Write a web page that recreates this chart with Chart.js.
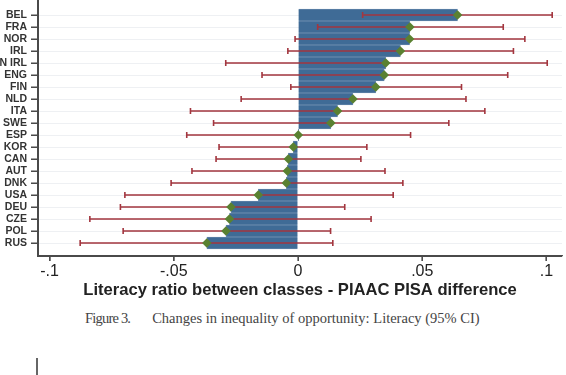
<!DOCTYPE html>
<html>
<head>
<meta charset="utf-8">
<script src="https://cdn.jsdelivr.net/npm/chart.js@4"></script>
<style>
  html, body { margin: 0; padding: 0; background: #fff; width: 566px; height: 375px; overflow: hidden; }
  #wrap { position: absolute; left: 0; top: 0; width: 566px; height: 300px; }
  #caption { position: absolute; left: 85px; top: 310px; font-family: "Liberation Serif", serif; font-size: 14.5px; color: #444; white-space: nowrap; }
  #caption .fig { letter-spacing: -0.8px; }
  #caption .gap { display: inline-block; width: 22px; }
  #cursor { position: absolute; left: 36px; top: 358px; width: 2px; height: 17px; background: #666; }
</style>
</head>
<body>
<div id="wrap"><canvas id="c" width="566" height="300"></canvas></div>
<div id="caption"><span class="fig">Figure 3.</span><span class="gap"></span>Changes in inequality of opportunity: Literacy (95% CI)</div>
<div id="cursor"></div>
<script>
const countries = ['BEL','FRA','NOR','IRL','N IRL','ENG','FIN','NLD','ITA','SWE','ESP','KOR','CAN','AUT','DNK','USA','DEU','CZE','POL','RUS'];
const estimates = [0.0642, 0.0450, 0.0449, 0.0412, 0.0353, 0.0347, 0.0313, 0.0221, 0.0159, 0.0132, 0.0001, -0.0019, -0.0039, -0.0043, -0.0047, -0.0160, -0.0270, -0.0276, -0.0290, -0.0367];
const lowerCI  = [0.0260, 0.0079, -0.0012, -0.0041, -0.0291, -0.0145, -0.0029, -0.0229, -0.0433, -0.0340, -0.0448, -0.0318, -0.0330, -0.0427, -0.0511, -0.0697, -0.0715, -0.0838, -0.0704, -0.0877];
const upperCI  = [0.1023, 0.0826, 0.0913, 0.0867, 0.1003, 0.0844, 0.0658, 0.0676, 0.0752, 0.0607, 0.0453, 0.0277, 0.0253, 0.0350, 0.0422, 0.0383, 0.0188, 0.0294, 0.0131, 0.0140];
const xTickValues = [-0.1, -0.05, 0, 0.05, 0.1];
const xTickLabels = ['-.1', '-.05', '0', '.05', '.1'];
const xTitle = 'Literacy ratio between classes - PIAAC PISA difference';

const barData = estimates.map((v, i) => ({ x: v, y: i }));
const pointData = estimates.map((v, i) => ({ x: v, y: i }));

const errorBars = {
  id: 'errorBars',
  afterDatasetDraw(chart, args) {
    if (args.index !== 0) return;
    const ctx = chart.ctx;
    const xs = chart.scales.x, ys = chart.scales.y;
    ctx.save();
    ctx.strokeStyle = '#a3363f';
    ctx.lineWidth = 1.6;
    const cap = 3;
    for (let i = 0; i < countries.length; i++) {
      const y = ys.getPixelForValue(i);
      const x1 = xs.getPixelForValue(lowerCI[i]);
      const x2 = xs.getPixelForValue(upperCI[i]);
      ctx.beginPath();
      ctx.moveTo(x1, y); ctx.lineTo(x2, y);
      ctx.moveTo(x1, y - cap); ctx.lineTo(x1, y + cap);
      ctx.moveTo(x2, y - cap); ctx.lineTo(x2, y + cap);
      ctx.stroke();
    }
    ctx.restore();
  }
};

const axisLines = {
  id: 'axisLines',
  afterDraw(chart) {
    const ctx = chart.ctx;
    const ca = chart.chartArea;
    const xs = chart.scales.x, ys = chart.scales.y;
    ctx.save();
    ctx.fillStyle = '#4a4a4a';
    ctx.fillRect(Math.round(ca.left) - 1, ca.top, 2, ca.bottom - ca.top + 1);
    ctx.fillRect(ca.left - 1, Math.round(ca.bottom) - 1, ca.right - ca.left + 1, 2);
    for (let i = 0; i < countries.length; i++) {
      const y = Math.round(ys.getPixelForValue(i));
      ctx.fillRect(ca.left - 7, y - 0.5, 7, 1.3);
    }
    for (const v of xTickValues) {
      const x = Math.round(xs.getPixelForValue(v));
      ctx.fillRect(x - 0.6, ca.bottom, 1.3, 5);
    }
    ctx.restore();
  }
};

new Chart(document.getElementById('c'), {
  type: 'bar',
  data: {
    datasets: [
      {
        type: 'bar',
        data: barData,
        backgroundColor: '#3f6b96',
        borderColor: '#6f8fb1',
        borderWidth: 0.8,
        barPercentage: 1,
        categoryPercentage: 1,
        order: 2
      },
      {
        type: 'line',
        data: pointData,
        showLine: false,
        pointStyle: 'rectRot',
        pointRadius: 4.8,
        pointBackgroundColor: '#5a8131',
        pointBorderColor: '#5a8131',
        pointBorderWidth: 0,
        clip: false,
        order: 1
      }
    ]
  },
  plugins: [errorBars, axisLines],
  options: {
    indexAxis: 'y',
    responsive: false,
    maintainAspectRatio: false,
    devicePixelRatio: 1,
    animation: false,
    layout: { autoPadding: false, padding: { top: 0, right: 4, left: 0, bottom: 0 } },
    plugins: { legend: { display: false }, tooltip: { enabled: false } },
    scales: {
      x: {
        type: 'linear',
        min: -0.10467,
        max: 0.10625,
        afterBuildTicks(scale) { scale.ticks = xTickValues.map(v => ({ value: v })); },
        afterFit(scale) { scale.height = 44; scale.paddingLeft = 0; scale.paddingRight = 0; },
        ticks: {
          callback(v) { const k = xTickValues.findIndex(t => Math.abs(t - v) < 1e-9); return k >= 0 ? xTickLabels[k] : ''; },
          font: { family: 'Liberation Sans', size: 16 },
          color: '#222',
          padding: 1,
          maxRotation: 0,
          autoSkip: false
        },
        grid: { display: true, drawOnChartArea: false, drawTicks: true, tickLength: 5, tickColor: '#555', lineWidth: 1 },
        border: { display: true, color: '#555', width: 1.3 },
        title: {
          display: true,
          text: xTitle,
          font: { family: 'Liberation Sans', size: 16.6, weight: 'bold' },
          color: '#222',
          padding: { top: 0, bottom: 0 }
        }
      },
      y: {
        type: 'linear',
        reverse: true,
        offset: false,
        min: -1.25,
        max: 20.083,
        afterBuildTicks(scale) { scale.ticks = countries.map((c, i) => ({ value: i })); },
        afterFit(scale) { scale.width = 38; scale.paddingTop = 0; scale.paddingBottom = 0; },
        ticks: {
          callback(v) { return countries[v]; },
          font: { family: 'Liberation Sans', size: 10.5, weight: 'bold' },
          color: '#333',
          padding: 4,
          autoSkip: false
        },
        grid: { display: true, offset: false, drawOnChartArea: true, color: '#eef0f3', lineWidth: 1, tickColor: '#555', tickLength: 7 },
        border: { display: true, color: '#555', width: 1.3 }
      }
    }
  }
});
</script>
</body>
</html>
